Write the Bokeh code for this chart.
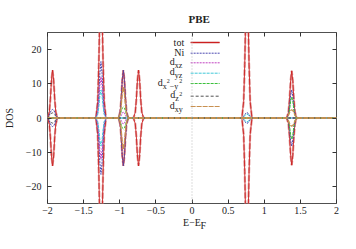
from bokeh.plotting import figure
from bokeh.models import Range1d, LinearAxis, Label, Span
from bokeh.embed import file_html
from bokeh.resources import INLINE

# ---------------- data ----------------
# energy sample points around each peak (E - E_F, eV)
e_p1 = [-2.000, -1.975, -1.960, -1.945, -1.930, -1.915, -1.900, -1.885, -1.860]
e_p2 = [-1.330, -1.305, -1.290, -1.275, -1.260, -1.245, -1.230, -1.215, -1.190]
e_p3 = [-1.020, -0.995, -0.980, -0.965, -0.950, -0.935, -0.920, -0.905, -0.880]
e_p4 = [-0.810, -0.785, -0.770, -0.755, -0.740, -0.725, -0.710, -0.695, -0.670]
e_p5 = [0.690, 0.715, 0.730, 0.745, 0.760, 0.775, 0.790, 0.805, 0.830]
e_p6 = [1.310, 1.335, 1.350, 1.365, 1.380, 1.395, 1.410, 1.425, 1.450]
e_end = [2.0]
energy = e_p1 + e_p2 + e_p3 + e_p4 + e_p5 + e_p6 + e_end

zero9 = [0, 0, 0, 0, 0, 0, 0, 0, 0]

tot = ([0, 1.7, 5.5, 11.1, 14.0, 11.1, 5.5, 1.7, 0]
       + [0, 4.8, 15.6, 31.6, 40.0, 31.6, 15.6, 4.8, 0]
       + [0, 1.7, 5.5, 11.1, 14.0, 11.1, 5.5, 1.7, 0]
       + [0, 1.7, 5.5, 11.1, 14.0, 11.1, 5.5, 1.7, 0]
       + [0, 4.8, 15.6, 31.6, 40.0, 31.6, 15.6, 4.8, 0]
       + [0, 1.7, 5.4, 10.9, 13.8, 10.9, 5.4, 1.7, 0] + [0])
ni = ([0, 0.9, 1.7, 2.3, 2.5, 2.3, 1.7, 0.9, 0]
      + [0, 2.0, 6.4, 13.0, 16.5, 13.0, 6.4, 2.0, 0]
      + [0, 1.7, 5.5, 11.1, 14.0, 11.1, 5.5, 1.7, 0]
      + zero9
      + [0, 0.5, 1.0, 1.4, 1.6, 1.4, 1.0, 0.5, 0]
      + [0, 1.0, 3.2, 6.5, 8.2, 6.5, 3.2, 1.0, 0] + [0])
dxz = (zero9
       + [0, 1.4, 4.7, 9.5, 12.0, 9.5, 4.7, 1.4, 0]
       + [0, 0.2, 0.7, 1.4, 1.8, 1.4, 0.7, 0.2, 0]
       + zero9 + zero9 + zero9 + [0])
dyz = (zero9
       + [0, 1.0, 3.2, 6.5, 8.2, 6.5, 3.2, 1.0, 0]
       + zero9 + zero9
       + [0, 0.3, 0.7, 1.0, 1.1, 1.0, 0.7, 0.3, 0]
       + zero9 + [0])
dx2y2 = (zero9 + zero9
         + [0, 0.9, 2.0, 2.9, 3.2, 2.9, 2.0, 0.9, 0]
         + zero9 + zero9
         + [0, 0.7, 2.4, 4.9, 6.2, 4.9, 2.4, 0.7, 0] + [0])
dz2 = ([0, 0.5, 1.0, 1.4, 1.5, 1.4, 1.0, 0.5, 0]
       + zero9 + zero9 + zero9 + zero9 + zero9 + [0])
dxy = (zero9 + zero9
       + [0, 1.1, 3.5, 7.1, 9.0, 7.1, 3.5, 1.1, 0]
       + zero9 + zero9
       + [0, 0.8, 1.6, 2.2, 2.4, 2.2, 1.6, 0.8, 0] + [0])

x_ticks = [-2, -1.5, -1, -0.5, 0, 0.5, 1, 1.5, 2]
x_tick_labels = ["\u22122", "\u22121.5", "\u22121", "\u22120.5", "0", "0.5", "1", "1.5", "2"]
y_ticks = [-20, -10, 0, 10, 20]
y_tick_labels = ["\u221220", "\u221210", "0", "10", "20"]
x_label = "E\u2212E"
x_label_sub = "F"

# ---------------- figure ----------------
FONT = "Liberation Serif"
TXT = "#222222"

p = figure(width=340, height=233, x_range=Range1d(-2, 2), y_range=Range1d(-25, 25),
           output_backend="svg", toolbar_location=None,
           min_border_left=47, min_border_right=4, min_border_top=32, min_border_bottom=30)
p.background_fill_color = "white"
p.border_fill_color = "white"
p.grid.visible = False
p.outline_line_color = "#505050"
p.outline_line_width = 1

p.title.text = "PBE"
p.title.align = "left"
p.title.offset = 141
p.title.text_font = FONT
p.title.text_font_size = "11px"
p.title.text_font_style = "bold"
p.title.text_color = TXT
p.title.standoff = 16

def style_axis(ax, ticks, labels, show_labels=True):
    ax.ticker = ticks
    ax.major_label_overrides = dict(zip(ticks, labels))
    ax.major_tick_in = 4
    ax.major_tick_out = 0
    ax.minor_tick_line_color = None
    ax.axis_line_color = None
    ax.major_tick_line_color = "#333333"
    ax.major_label_text_font = FONT
    ax.major_label_text_font_size = "10px" if show_labels else "0px"
    ax.major_label_text_color = TXT
    ax.major_label_standoff = 3 if show_labels else 0
    if not show_labels:
        ax.major_label_text_alpha = 0

style_axis(p.xaxis[0], x_ticks, x_tick_labels)
style_axis(p.yaxis[0], y_ticks, y_tick_labels)
p.yaxis.major_label_standoff = 6
p.yaxis.axis_label = "DOS"
p.yaxis.axis_label_text_font = FONT
p.yaxis.axis_label_text_font_size = "10px"
p.yaxis.axis_label_text_font_style = "normal"
p.yaxis.axis_label_text_color = TXT
p.yaxis.axis_label_standoff = 8

# E−E with a lowered "F": second line of the label, pulled up by a small line height
p.xaxis.axis_label = x_label + "\n" + "\u00a0" * 9 + x_label_sub
p.xaxis.axis_label_text_font = FONT
p.xaxis.axis_label_text_font_size = "10px"
p.xaxis.axis_label_text_font_style = "normal"
p.xaxis.axis_label_text_color = TXT
p.xaxis.axis_label_text_line_height = 0.3
p.xaxis.axis_label_standoff = 0

top_ax = LinearAxis()
style_axis(top_ax, x_ticks, x_tick_labels, show_labels=False)
p.add_layout(top_ax, "above")
right_ax = LinearAxis()
style_axis(right_ax, y_ticks, y_tick_labels, show_labels=False)
p.add_layout(right_ax, "right")

p.add_layout(Span(location=0, dimension="height", line_color="#bbbbbb",
                  line_dash="1 2", line_width=1))

# series styles
series = [
    ("tot", tot, "#cc1f1f", None, 0.9),
    ("Ni", ni, "#4a48b0", "2 1", 1.0),
    ("dxz", dxz, "#c040c0", "2 1", 1.0),
    ("dyz", dyz, "#40c8d8", "3 1", 1.0),
    ("dx2y2", dx2y2, "#3cc03c", "3 1", 1.0),
    ("dz2", dz2, "#505050", "3 2", 1.0),
    ("dxy", dxy, "#c89050", "5 1", 1.3),
]

# total DOS: pinkish broad trace beneath a thin red line
p.line(energy, tot, line_color="#e09a9a", line_width=2.2, line_dash="6 2")
p.line(energy, [-v for v in tot], line_color="#e09a9a", line_width=2.2, line_dash="6 2")
for name, vals, col, dash, w in series:
    kw = dict(line_color=col, line_width=w)
    if dash:
        kw["line_dash"] = dash
    p.line(energy, vals, **kw)
    p.line(energy, [-v for v in vals], **kw)

# ---------------- legend placed by pixel position ----------------
def dxp(px):
    return (px - 191.35) / 72.33

def dyp(py):
    return (117.5 - py) / 3.42

def lab(text, px, py, size, align="left"):
    p.add_layout(Label(x=dxp(px), y=dyp(py), text=text, text_font=FONT,
                       text_font_size=size, text_align=align, text_baseline="middle",
                       text_color=TXT))

leg_y = {"tot": 42, "Ni": 52.7, "dxz": 62.3, "dyz": 72.7, "dx2y2": 83, "dz2": 95.7, "dxy": 106}
lab("tot", 183.5, 41.7, "10px", align="right")
lab("Ni", 183.5, 52, "10px", align="right")
lab("d", 174, 60.8, "10px", align="right")
lab("xz", 174, 65, "8px")
lab("d", 174, 71.2, "10px", align="right")
lab("yz", 174, 75.4, "8px")
lab("d", 162, 81.5, "10px", align="right")
lab("x", 162, 85.7, "8px")
lab("2", 166, 80.5, "6px")
lab("\u2212y", 169, 85.7, "8px")
lab("2", 178.5, 80.5, "6px")
lab("d", 174.5, 94, "10px", align="right")
lab("z", 174.5, 98.2, "8px")
lab("2", 178.5, 93, "6px")
lab("d", 174, 104.5, "10px", align="right")
lab("xy", 174, 108.7, "8px")

for name, vals, col, dash, w in series:
    y = dyp(leg_y[name])
    if name == "tot":
        p.segment(x0=[dxp(190)], y0=[y], x1=[dxp(219)], y1=[y],
                  line_color="#e09a9a", line_width=2.0)
    kw = dict(line_color=col, line_width=1)
    if dash:
        kw["line_dash"] = dash
    p.segment(x0=[dxp(190)], y0=[y], x1=[dxp(219)], y1=[y], **kw)

open("out.html", "w").write(file_html(p, INLINE))
